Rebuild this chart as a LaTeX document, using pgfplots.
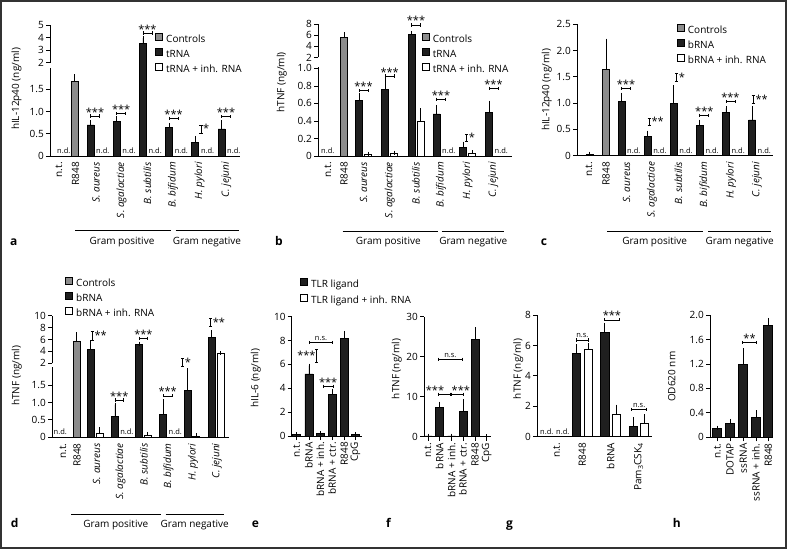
\documentclass[border=0pt]{standalone}
\usepackage{fontspec}
\setmainfont{Open Sans}
\usepackage{pgfplots}
\usepackage{pgfplotstable}
\pgfplotsset{compat=1.18}
\newcommand{\fs}[1]{\fontsize{#1}{#1}\selectfont}

% ---------- data (x = position in pt from the y axis, y = value, e = error) ----------
\pgfplotstableread{
x y e
24.5 1.69 0.11
}\aGray
\pgfplotstableread{
x y e
40.5 0.70 0.07
66.7 0.77 0.08
92.9 3.50 0.45
119.1 0.64 0.06
145.3 0.30 0.11
171.5 0.61 0.15
}\aBlack
\pgfplotstableread{
x y e
92.9 3.50 0.45
}\aBlackHi
\pgfplotstableread{
x y e
26 5.65 0.5
}\bGray
\pgfplotstableread{
x y e
41 0.63 0.07
67.2 0.76 0.12
93.5 6.15 0.25
118.5 0.48 0.08
145 0.10 0.04
171 0.50 0.11
}\bBlack
\pgfplotstableread{
x y e
93.5 6.15 0.25
}\bBlackHi
\pgfplotstableread{
x y e
50 0.02 0.006
76.2 0.03 0.008
102.5 0.40 0.12
154 0.035 0.006
}\bWhite
\pgfplotstableread{
x y e
29 1.64 0.55
}\cGray
\pgfplotstableread{
x y e
12.7 0.02 0.02
44.5 1.04 0.12
70.6 0.37 0.07
96.7 1.00 0.30
122.8 0.58 0.07
148.9 0.82 0.08
175 0.68 0.23
}\cBlack
\pgfplotstableread{
x y e
24.5 5.75 1.1
}\dGray
\pgfplotstableread{
x y e
38.7 4.4 1.1
62.9 0.60 0.34
87.1 5.2 0.1
111.3 0.66 0.38
135.5 1.35 0.57
159.7 6.4 0.8
}\dBlack
\pgfplotstableread{
x y e
38.7 4.4 1.1
87.1 5.2 0.1
159.7 6.4 0.8
}\dBlackHi
\pgfplotstableread{
x y e
47.4 0.11 0.12
95.8 0.06 0.04
144.2 0.04 0.02
168.4 3.6 0.05
}\dWhite
\pgfplotstableread{
x y e
168.4 3.6 0.05
}\dWhiteHi
\pgfplotstableread{
x y e
5 0.15 0.03
17.2 5.2 0.7
28.8 0.2 0.05
40.5 3.45 0.35
52.5 8.2 0.45
63.8 0.1 0.03
}\eBlack
\pgfplotstableread{
x y e
4 0.2 0.05
15.7 7.4 0.9
27.7 0.2 0.05
39 6.3 2.6
51 24.3 2.5
62.7 0.1 0.05
}\fBlack
\pgfplotstableread{
x y e
39.5 5.45 0.5
67.8 6.85 0.5
96.2 0.7 0.45
}\gBlack
\pgfplotstableread{
x y e
51.3 5.75 0.25
79.5 1.47 0.5
107.2 0.85 0.5
}\gWhite
\pgfplotstableread{
x y e
7.3 0.15 0.01
20 0.22 0.05
33.3 1.19 0.23
46 0.33 0.08
58.3 1.83 0.09
}\hBlack

% ---------- styles ----------
\tikzset{
  annot/.style={line width=0.7pt, black},
  stars/.style={anchor=base, inner sep=0pt, font=\fs{11}},
  nstxt/.style={anchor=base, inner sep=0pt, font=\fs{7.5}},
  ndtxt/.style={anchor=base west, inner sep=0pt, font=\fs{7.5}},
}
\pgfplotsset{
  panel/.style={scale only axis, anchor=south west, xmin=0,
    axis x line*=bottom, axis y line*=left,
    axis line style={line width=0.8pt, -},
    tick align=outside, major tick length=4pt,
    every tick/.style={line width=0.8pt, black},
    clip mode=individual,
    /pgf/number format/assume math mode=true,
    tick label style={font=\fs{10}},
    xticklabel style={rotate=90, anchor=east, inner sep=2pt},
    yticklabel style={inner sep=2pt},
  },
  upper/.style={scale only axis, anchor=south west, xmin=0,
    axis x line=none, axis y line*=left, xtick=\empty,
    axis line style={line width=0.8pt, -},
    y axis line style={shorten <=1.5pt},
    tick align=outside, major tick length=4pt,
    every tick/.style={line width=0.8pt, black},
    clip mode=individual,
    tick label style={font=\fs{10}},
    yticklabel style={inner sep=2pt},
  },
  noxt/.style={xtick style={draw=none}},
  bb/.style={ybar, bar width=#1, draw=black, line width=0.7pt,
    error bars/y dir=plus, error bars/y explicit,
    error bars/error bar style={line width=0.7pt, black, solid},
    error bars/error mark options={line width=0.7pt, black, mark size=2pt}},
  bb/.default=7pt,
  sq/.style={legend image code/.code={\draw[line width=0.7pt, draw=black, ##1] (0pt,0pt) rectangle (7pt,7pt);}},
  leg/.style={legend style={at={(axis description cs:#1)}, anchor=north west,
    draw=none, fill=none, inner sep=0pt, outer sep=0pt, row sep=0pt, column sep=3.5pt,
    font=\fs{10}, nodes={inner sep=0pt, text height=7.2pt, text depth=2pt, minimum height=15pt}},
    legend cell align=left},
}
% horizontal bracket: x1, x2, y (caps are 3.2pt tall)
\newcommand{\hbline}[3]{%
  \draw[annot] ([yshift=1.6pt]axis cs:#1,#3) -- ([yshift=-1.6pt]axis cs:#1,#3)
    (axis cs:#1,#3) -- (axis cs:#2,#3)
    ([yshift=1.6pt]axis cs:#2,#3) -- ([yshift=-1.6pt]axis cs:#2,#3);}
\newcommand{\hbr}[4]{\hbline{#1}{#2}{#3}%
  \node[stars] at (axis cs:{0.5*(#1+#2)},#3) {#4};}
\newcommand{\hbrs}[5]{\hbline{#1}{#2}{#3}%
  \node[stars] at (axis cs:#5,#3) {#4};}
% vertical bracket: x, y1, y2
\newcommand{\vbline}[3]{%
  \draw[annot] ([xshift=-1.6pt]axis cs:#1,#2) -- ([xshift=1.6pt]axis cs:#1,#2)
    (axis cs:#1,#2) -- (axis cs:#1,#3)
    ([xshift=-1.6pt]axis cs:#1,#3) -- ([xshift=1.6pt]axis cs:#1,#3);}
\newcommand{\vbr}[4]{\vbline{#1}{#2}{#3}%
  \node[stars, anchor=base west] at ([xshift=2pt]axis cs:#1,#2) {#4};}
\newcommand{\nsbr}[3]{\hbline{#1}{#2}{#3}%
  \node[nstxt] at ([yshift=2pt]axis cs:{0.5*(#1+#2)},#3) {n.s.};}
\newcommand{\nd}[1]{\node[ndtxt] at ([yshift=2.5pt]axis cs:#1,0) {n.d.};}

\begin{document}
\begin{tikzpicture}
\useasboundingbox (0,0) rectangle (787pt,549pt);
\fill[white] (0,0) rectangle (787pt,549pt);

% ===================== upper parts of the broken axes (drawn first) =====================
\begin{axis}[upper, at={(50pt,484.8pt)}, width=190pt, height=39.2pt, xmax=190, ymin=1.8806, ymax=5,
  ytick={2,3,4,5}, yticklabels={2,3,4,5}]
\addplot[bb, fill=black!88] table[x=x,y=y,y error=e] {\aBlackHi};
\hbr{92.9}{101.9}{4.36}{***}
\end{axis}
\begin{axis}[upper, at={(318pt,490pt)}, width=194pt, height=35pt, xmax=194, ymin=1.7313, ymax=8,
  ytick={2,4,6,8}, yticklabels={2,4,6,8}]
\addplot[bb, fill=black!45] table[x=x,y=y,y error=e] {\bGray};
\addplot[bb, fill=black!88] table[x=x,y=y,y error=e] {\bBlackHi};
\hbr{93.5}{102.5}{7.82}{***}
\end{axis}
\begin{axis}[upper, at={(52pt,184.2pt)}, width=177pt, height=49.1pt, xmax=177, ymin=1.7479, ymax=10,
  ytick={2,4,6,8,10}, yticklabels={2,4,6,8,10}]
\addplot[bb, fill=black!45] table[x=x,y=y,y error=e] {\dGray};
\addplot[bb, fill=black!88] table[x=x,y=y,y error=e] {\dBlackHi};
\addplot[bb, fill=white] table[x=x,y=y,y error=e] {\dWhiteHi};
\vbr{40.3}{5.92}{7.43}{**}
\hbr{87.1}{95.8}{6.2}{***}
\vbr{158.7}{8.15}{9.56}{**}
\end{axis}

% ===================== a =====================
\begin{axis}[panel, noxt, at={(50pt,393pt)}, width=190pt, height=93.2pt, xmax=190, ymin=0, ymax=2.1,
  ytick={0,0.5,1,1.5}, yticklabels={0,0.5,1.0,1.5},
  y axis line style={shorten >=5.5pt},
  xtick={9,25.5,46,71.5,97.5,123,149.5,176.5},
  xticklabels={n.t.,R848,\textit{S. aureus},\textit{S. agalactiae},\textit{B. subtilis},\textit{B. bifidum},\textit{H. pylori},\textit{C. jejuni}},
  leg={0.5526,1.322}]
\addlegendimage{sq, fill=black!45}\addlegendentry{Controls}
\addlegendimage{sq, fill=black!88}\addlegendentry{tRNA}
\addlegendimage{sq, fill=white}\addlegendentry{tRNA + inh. RNA}
\addplot[bb, fill=black!45] table[x=x,y=y,y error=e] {\aGray};
\addplot[bb, fill=black!88] table[x=x,y=y,y error=e] {\aBlack};
\nd{7}\nd{46}\nd{72.2}\nd{98.4}\nd{124.6}\nd{150.8}\nd{177}
\hbr{40.5}{49.5}{0.90}{***}
\hbr{66.7}{75.7}{0.96}{***}
\hbr{119.1}{128.1}{0.85}{***}
\vbr{151}{0.52}{0.70}{*}
\hbr{171.5}{180.5}{0.885}{***}
\end{axis}

% ===================== b =====================
\begin{axis}[panel, noxt, at={(318pt,393pt)}, width=194pt, height=98.5pt, xmax=194, ymin=0, ymax=1.1244,
  ytick={0,0.2,0.4,0.6,0.8,1.0}, yticklabels={0,0.2,0.4,0.6,0.8,1.0},
  y axis line style={shorten >=9.2pt},
  xtick={10,26,45.5,71.7,98,123,149.5,175.5},
  xticklabels={n.t.,R848,\textit{S. aureus},\textit{S. agalactiae},\textit{B. subtilis},\textit{B. bifidum},\textit{H. pylori},\textit{C. jejuni}},
  leg={0.5345,1.2508}]
\addlegendimage{sq, fill=black!45}\addlegendentry{Controls}
\addlegendimage{sq, fill=black!88}\addlegendentry{tRNA}
\addlegendimage{sq, fill=white}\addlegendentry{tRNA + inh. RNA}
\addplot[bb, fill=black!45] table[x=x,y=y,y error=e] {\bGray};
\addplot[bb, fill=black!88] table[x=x,y=y,y error=e] {\bBlack};
\addplot[bb, fill=white] table[x=x,y=y,y error=e] {\bWhite};
\nd{3}\nd{124}\nd{176.5}
\hbr{41}{50}{0.745}{***}
\hbr{67.2}{76.2}{0.913}{***}
\hbr{118.5}{127.5}{0.647}{***}
\vbr{148.7}{0.17}{0.25}{*}
\hbr{171}{180}{0.773}{***}
\end{axis}

% ===================== c =====================
\begin{axis}[panel, noxt, at={(577pt,393.3pt)}, width=196pt, height=131.4pt, xmax=196, ymin=0, ymax=2.5,
  ytick={0,0.5,1,1.5,2,2.5}, yticklabels={0,0.5,1.0,1.5,2.0,2.5},
  xtick={12,29,49.5,75,101.5,127.5,154,180},
  xticklabels={n.t.,R848,\textit{S. aureus},\textit{S. agalactiae},\textit{B. subtilis},\textit{B. bifidum},\textit{H. pylori},\textit{C. jejuni}},
  leg={0.5087,1.006}]
\addlegendimage{sq, fill=black!45}\addlegendentry{Controls}
\addlegendimage{sq, fill=black!88}\addlegendentry{bRNA}
\addlegendimage{sq, fill=white}\addlegendentry{bRNA + inh. RNA}
\addplot[bb, fill=black!45] table[x=x,y=y,y error=e] {\cGray};
\addplot[bb, fill=black!88] table[x=x,y=y,y error=e] {\cBlack};
\nd{50}\nd{76.1}\nd{102.2}\nd{128.3}\nd{154.4}\nd{180.5}
\hbr{44.5}{53.5}{1.28}{***}
\vbr{72.3}{0.58}{0.71}{**}
\vbr{99.7}{1.41}{1.57}{*}
\hbr{122.8}{131.8}{0.77}{***}
\hbr{148.9}{157.9}{1.03}{***}
\vbr{176.3}{1.0}{1.14}{**}
\end{axis}

% ===================== d =====================
\begin{axis}[panel, noxt, at={(52pt,111.7pt)}, width=177pt, height=74pt, xmax=177, ymin=0, ymax=2.1264,
  ytick={0,0.5,1,1.5}, yticklabels={0,0.5,1.0,1.5},
  y axis line style={shorten >=4pt},
  xtick={11,25,44.5,68.5,92,116.5,141,165},
  xticklabels={n.t.,R848,\textit{S. aureus},\textit{S. agalactiae},\textit{B. subtilis},\textit{B. bifidum},\textit{H. pylori},\textit{C. jejuni}},
  leg={0.0734,2.169}]
\addlegendimage{sq, fill=black!45}\addlegendentry{Controls}
\addlegendimage{sq, fill=black!88}\addlegendentry{bRNA}
\addlegendimage{sq, fill=white}\addlegendentry{bRNA + inh. RNA}
\addplot[bb, fill=black!45] table[x=x,y=y,y error=e] {\dGray};
\addplot[bb, fill=black!88] table[x=x,y=y,y error=e] {\dBlack};
\addplot[bb, fill=white] table[x=x,y=y,y error=e] {\dWhite};
\nd{1.5}\nd{68.1}\nd{116.5}
\hbr{62.9}{71.6}{1.07}{***}
\hbr{111.3}{120}{1.19}{***}
\vbr{130.7}{2.03}{2.27}{*}
\end{axis}

% ===================== e =====================
\begin{axis}[panel, at={(291.7pt,113pt)}, width=70pt, height=119.3pt, xmax=70, ymin=0, ymax=10,
  ytick={0,2,4,6,8,10}, yticklabels={0,2,4,6,8,10},
  xtick={5,17.2,28.8,40.5,52.5,63.8},
  xticklabels={n.t.,bRNA,bRNA + inh.,bRNA + ctr.,R848,CpG},
  leg={0.1186,1.334}, legend style={nodes={minimum height=16pt}}]
\addlegendimage{sq, fill=black!88}\addlegendentry{TLR ligand}
\addlegendimage{sq, fill=white}\addlegendentry{TLR ligand + inh. RNA}
\addplot[bb=8pt, fill=black!88] table[x=x,y=y,y error=e] {\eBlack};
\vbline{25}{6.2}{7.3}
\node[stars, anchor=base east] at (axis cs:24,6.42) {***};
\hbrs{31.5}{41.5}{4.18}{***}{36.5}
\nsbr{17.6}{41}{7.84}
\end{axis}

% ===================== f =====================
\begin{axis}[panel, at={(424pt,112.3pt)}, width=67pt, height=120pt, xmax=67, ymin=0, ymax=30,
  ytick={0,10,20,30}, yticklabels={0,10,20,30},
  xtick={4,15.7,27.7,39,51,62.7},
  xticklabels={n.t.,bRNA,bRNA + inh.,bRNA + ctr.,R848,CpG}]
\addplot[bb=8pt, fill=black!88] table[x=x,y=y,y error=e] {\fBlack};
\hbrs{14}{26}{10.6}{***}{11}
\hbrs{27.7}{39}{10.6}{***}{36.8}
\nsbr{14}{38.7}{19.35}
\end{axis}

% ===================== g =====================
\begin{axis}[panel, noxt, at={(537pt,112.3pt)}, width=115pt, height=121.7pt, xmax=115, ymin=0, ymax=8,
  ytick={0,2,4,6,8}, yticklabels={0,2,4,6,8},
  xtick={19.7,45.4,73.7,101.7},
  xticklabels={n.t.,R848,bRNA,Pam\textsubscript{3}CSK\textsubscript{4}}]
\addplot[bb=8.3pt, fill=black!88] table[x=x,y=y,y error=e] {\gBlack};
\addplot[bb=8.3pt, fill=white] table[x=x,y=y,y error=e] {\gWhite};
\nd{3}\nd{19}
\nsbr{39.5}{51.3}{6.36}
\hbr{67.8}{82}{7.68}{***}
\nsbr{94.7}{109.7}{1.8}
\end{axis}

% ===================== h =====================
\begin{axis}[panel, at={(710pt,111.7pt)}, width=63.3pt, height=122.3pt, xmax=63.3, ymin=0, ymax=2,
  ytick={0,0.4,0.8,1.2,1.6,2.0}, yticklabels={0,0.4,0.8,1.2,1.6,2.0},
  xtick={7.3,20,33.3,46,58.3},
  xticklabels={n.t.,DOTAP,ssRNA,ssRNA + inh.,R848}]
\addplot[bb=9pt, fill=black!88] table[x=x,y=y,y error=e] {\hBlack};
\hbr{32.3}{46.7}{1.55}{**}
\end{axis}

% ---------- y labels ----------
\begin{scope}[every node/.style={rotate=90, font=\fs{10}, inner sep=0pt}]
\node at (16.5pt,460pt) {hIL-12p40 (ng/ml)};
\node at (281.7pt,466.5pt) {hTNF (ng/ml)};
\node at (546.7pt,459pt) {hIL-12p40 (ng/ml)};
\node at (16.7pt,173.2pt) {hTNF (ng/ml)};
\node at (255.8pt,170.7pt) {hIL-6 (ng/ml)};
\node at (396.7pt,180pt) {hTNF (ng/ml)};
\node at (518.3pt,180pt) {hTNF (ng/ml)};
\node at (671.7pt,172.3pt) {OD620 nm};
\end{scope}

% ---------- group lines ----------
\begin{scope}[line width=0.7pt]
\draw (75pt,318.3pt) -- (170.7pt,318.3pt); \draw (175.7pt,318.3pt) -- (239pt,318.3pt);
\draw (342.7pt,318pt) -- (437.7pt,318pt); \draw (441.7pt,318pt) -- (504pt,318pt);
\draw (607.3pt,317.3pt) -- (702.7pt,317.3pt); \draw (708.3pt,317.3pt) -- (770.7pt,317.3pt);
\draw (71pt,34.7pt) -- (161pt,34.7pt); \draw (165.7pt,34.7pt) -- (224.3pt,34.7pt);
\end{scope}
\begin{scope}[every node/.style={anchor=base, font=\fs{10}, inner sep=0pt}]
\node at (122pt,304.5pt) {Gram positive}; \node at (207pt,304.5pt) {Gram negative};
\node at (388.3pt,304.5pt) {Gram positive}; \node at (473.3pt,304.5pt) {Gram negative};
\node at (654.7pt,304.5pt) {Gram positive}; \node at (739.7pt,304.5pt) {Gram negative};
\node at (115.8pt,21.3pt) {Gram positive}; \node at (194.7pt,21.3pt) {Gram negative};
\end{scope}

% ---------- panel letters ----------
\begin{scope}[every node/.style={anchor=base west, font=\fs{12}\bfseries, inner sep=0pt}]
\node at (10pt,303pt) {a};
\node at (275pt,303pt) {b};
\node at (540.7pt,303pt) {c};
\node at (10.7pt,21.5pt) {d};
\node at (251.7pt,21.5pt) {e};
\node at (386pt,21.5pt) {f};
\node at (506pt,21.5pt) {g};
\node at (672.7pt,21.5pt) {h};
\end{scope}

\draw[line width=1.6pt, black!80] (0.8pt,0.8pt) rectangle (786.2pt,548.2pt);
\end{tikzpicture}
\end{document}
